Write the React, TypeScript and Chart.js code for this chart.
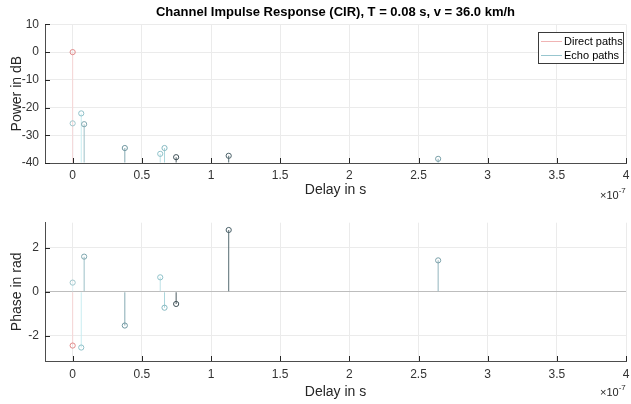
import { useEffect, useRef } from "react";
import { Chart, registerables } from "chart.js";

Chart.register(...registerables);

// Delays in units of 1e-7 s
const echoDelays = [0, 0.062, 0.083, 0.377, 0.633, 0.664, 0.748, 1.128, 2.642];
const echoPower = [-25.7, -22.1, -26.0, -34.6, -36.7, -34.6, -37.9, -37.4, -38.5];
const echoPhase = [0.42, -2.53, 1.6, -1.53, 0.66, -0.72, -0.55, 2.81, 1.43];
const directDelays = [0];
const directPower = [0];
const directPhase = [-2.44];

const xTicks = [0, 0.5, 1, 1.5, 2, 2.5, 3, 3.5, 4];
const powerTicks = [-40, -30, -20, -10, 0, 10];
const phaseTicks = [-2, 0, 2];

const titleText = "Channel Impulse Response (CIR), T = 0.08 s, v = 36.0 km/h";
const legendLabels = ["Direct paths", "Echo paths"];

// styles
const echoStemColors = [
  "#e2f4f7",
  "#c8edf1",
  "#9cc0c7",
  "#86abb3",
  "#bde1e6",
  "#aad6dc",
  "#4a5a60",
  "#566b72",
  "#92b5bd",
];
const echoMarkerColors = [
  "#9fc6cc",
  "#8fc0c8",
  "#7ea6ae",
  "#6f97a0",
  "#8fc2ca",
  "#86b9c1",
  "#3f5057",
  "#4b6169",
  "#7aa0a9",
];
const directStemColor = "#f7d6d6";
const directMarkerColor = "#e08a8a";
const FONT = "'Liberation Sans', Arial, Helvetica, sans-serif";

type Kind = "power" | "phase";

function fmt(v: number): string {
  return String(v);
}

function makeConfig(kind: Kind): any {
  const isPower = kind === "power";
  const echoVals = isPower ? echoPower : echoPhase;
  const directVals = isPower ? directPower : directPhase;
  const yTicks = isPower ? powerTicks : phaseTicks;
  const yMin = isPower ? -40 : -Math.PI;
  const yMax = isPower ? 10 : Math.PI;
  const base = isPower ? -40 : 0;

  const extras = {
    id: "extras",
    afterDraw(chart: any) {
      const { ctx, chartArea } = chart;
      const xs = chart.scales.x;
      const ys = chart.scales.y;
      ctx.save();
      // inward ticks
      ctx.strokeStyle = "#262626";
      ctx.lineWidth = 1;
      ctx.beginPath();
      xs.ticks.forEach((t: any) => {
        const px = Math.round(xs.getPixelForValue(t.value)) + 0.5;
        ctx.moveTo(px, chartArea.bottom);
        ctx.lineTo(px, chartArea.bottom - 5);
      });
      ys.ticks.forEach((t: any) => {
        const py = Math.round(ys.getPixelForValue(t.value)) + 0.5;
        ctx.moveTo(chartArea.left, py);
        ctx.lineTo(chartArea.left + 5, py);
      });
      ctx.stroke();

      // exponent label
      const ey = isPower ? 196 : 193;
      ctx.fillStyle = "#262626";
      ctx.textBaseline = "middle";
      ctx.textAlign = "left";
      ctx.font = `11px ${FONT}`;
      const w = ctx.measureText("×10").width;
      ctx.fillText("×10", 600, ey);
      ctx.font = `8px ${FONT}`;
      ctx.fillText("-7", 600 + w, ey - 5);

      if (isPower) {
        // legend box
        const bx = 538.5, by = 32.5, bw = 85, bh = 31;
        ctx.fillStyle = "#ffffff";
        ctx.fillRect(bx, by, bw, bh);
        ctx.lineWidth = 1;
        ctx.strokeStyle = "#3a3a3a";
        ctx.strokeRect(bx, by, bw, bh);
        const rows = [
          { label: legendLabels[0], color: "#f0b4b4", y: 41.5 },
          { label: legendLabels[1], color: "#98c6cf", y: 55.5 },
        ];
        ctx.font = `11px ${FONT}`;
        rows.forEach((r) => {
          ctx.beginPath();
          ctx.strokeStyle = r.color;
          ctx.moveTo(541, r.y);
          ctx.lineTo(562, r.y);
          ctx.stroke();
          ctx.fillStyle = "#000";
          ctx.fillText(r.label, 564, r.y);
        });
      }
      ctx.restore();
    },
  };

  return {
    type: "scatter",
    data: {
      datasets: [
        {
          type: "scatter",
          data: directDelays.map((x, i) => ({ x, y: directVals[i] })),
          pointRadius: 2.6,
          pointBorderWidth: 1,
          pointBorderColor: directMarkerColor,
          pointBackgroundColor: "rgba(255,255,255,0)",
          order: 0,
        },
        {
          type: "scatter",
          data: echoDelays.map((x, i) => ({ x, y: echoVals[i] })),
          pointRadius: 2.6,
          pointBorderWidth: 1,
          pointBorderColor: echoMarkerColors,
          pointBackgroundColor: "rgba(255,255,255,0)",
          order: 0,
        },
        {
          type: "bar",
          data: echoDelays.map((x, i) => ({ x, y: echoVals[i] })),
          base,
          barThickness: 1,
          grouped: false,
          borderWidth: 0,
          inflateAmount: 0,
          backgroundColor: echoStemColors,
          order: 2,
        },
        {
          type: "bar",
          data: directDelays.map((x, i) => ({ x, y: directVals[i] })),
          base,
          barThickness: 1,
          grouped: false,
          borderWidth: 0,
          inflateAmount: 0,
          backgroundColor: directStemColor,
          order: 1,
        },
      ],
    },
    options: {
      animation: false,
      responsive: false,
      events: [],
      layout: {
        padding: { top: isPower ? 0 : 22.7, right: 0.5, left: 0, bottom: 0 },
      },
      plugins: {
        legend: { display: false },
        tooltip: { enabled: false },
        title: {
          display: isPower,
          fullSize: false,
          text: titleText,
          color: "#000",
          font: { family: FONT, size: 13, weight: "bold" },
          padding: { top: 4.5, bottom: 4.3 },
        },
      },
      scales: {
        x: {
          type: "linear",
          min: -0.2,
          max: 4,
          offset: false,
          afterBuildTicks: (s: any) => {
            s.ticks = xTicks.map((v) => ({ value: v }));
          },
          afterFit: (s: any) => {
            s.height = isPower ? 37 : 43;
            s.paddingLeft = 0;
            s.paddingRight = 0;
          },
          grid: { color: "#ebebeb", drawTicks: false, offset: false },
          border: { display: true, color: "#4d4d4d", width: 1 },
          ticks: {
            padding: isPower ? 5 : 6,
            color: "#333",
            font: { family: FONT, size: 12 },
            maxRotation: 0,
            autoSkip: false,
            callback: (v: any) => fmt(Number(v)),
          },
          title: {
            display: true,
            text: "Delay in s",
            color: "#262626",
            font: { family: FONT, size: 14 },
            padding: { top: 0, bottom: isPower ? 1.5 : 3.6 },
          },
        },
        y: {
          type: "linear",
          min: yMin,
          max: yMax,
          beginAtZero: false,
          afterBuildTicks: (s: any) => {
            s.ticks = yTicks.map((v) => ({ value: v }));
          },
          afterFit: (s: any) => {
            s.width = 45;
            s.paddingTop = 0;
            s.paddingBottom = 0;
          },
          grid: {
            drawTicks: false,
            color: (c: any) =>
              !isPower && c.tick && c.tick.value === 0 ? "#bdbdbd" : "#ebebeb",
          },
          border: { display: true, color: "#4d4d4d", width: 1 },
          ticks: {
            padding: 6,
            color: "#333",
            font: { family: FONT, size: 12 },
            callback: (v: any) => fmt(Number(v)),
          },
          title: {
            display: true,
            text: isPower ? "Power in dB" : "Phase in rad",
            color: "#262626",
            font: { family: FONT, size: 14 },
            padding: { top: 9, bottom: 0 },
          },
        },
      },
    },
    plugins: [extras],
  };
}

function Plot({ kind, height, top }: { kind: Kind; height: number; top: number }) {
  const ref = useRef<HTMLCanvasElement | null>(null);
  useEffect(() => {
    if (!ref.current) return;
    const chart = new Chart(ref.current, makeConfig(kind));
    return () => chart.destroy();
  }, [kind]);
  return (
    <canvas
      ref={ref}
      width={631}
      height={height}
      style={{ position: "absolute", left: 0, top, width: 631, height, display: "block" }}
    />
  );
}

export default function App() {
  return (
    <div
      style={{
        position: "absolute",
        left: 0,
        top: 0,
        width: 631,
        height: 404,
        background: "#fff",
        overflow: "hidden",
      }}
    >
      <Plot kind="power" height={200} top={0} />
      <Plot kind="phase" height={204} top={200} />
    </div>
  );
}
